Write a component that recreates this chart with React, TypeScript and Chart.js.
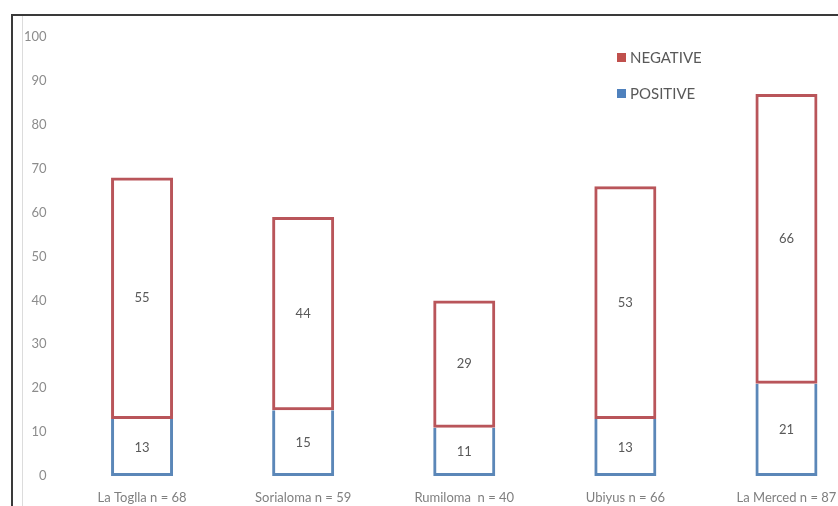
import React, { useEffect, useRef } from "react";
import { Chart, registerables } from "chart.js";

Chart.register(...registerables);

const categories = ["La Toglla n = 68", "Sorialoma n = 59", "Rumiloma  n = 40", "Ubiyus n = 66", "La Merced n = 87"];
const positiveValues = [13, 15, 11, 13, 21];
const negativeValues = [55, 44, 29, 53, 66];
const yTicks = [0, 10, 20, 30, 40, 50, 60, 70, 80, 90, 100];

const RED = "#b9555a";
const BLUE = "#5b87b8";
const FONT = "Lato, 'Open Sans', sans-serif";

const valueLabels = {
  id: "valueLabels",
  afterDatasetsDraw(chart: any) {
    const ctx = chart.ctx;
    ctx.save();
    ctx.font = `13px ${FONT}`;
    ctx.fillStyle = "#595959";
    ctx.textAlign = "center";
    ctx.textBaseline = "middle";
    chart.data.datasets.forEach((ds: any, i: number) => {
      const meta = chart.getDatasetMeta(i);
      meta.data.forEach((el: any, j: number) => {
        const y = (el.y + el.base) / 2;
        ctx.fillText(String(ds.data[j]), el.x, y);
      });
    });
    ctx.restore();
  },
};

const sideLegend = {
  id: "sideLegend",
  afterDraw(chart: any) {
    const ctx = chart.ctx;
    ctx.save();
    const items = [
      { label: "NEGATIVE", color: "#c0504d", y: 57 },
      { label: "POSITIVE", color: "#4f81bd", y: 93 },
    ];
    ctx.font = `15px ${FONT}`;
    ctx.textBaseline = "middle";
    ctx.textAlign = "left";
    items.forEach((it) => {
      ctx.fillStyle = it.color;
      ctx.fillRect(617, it.y - 4, 9, 9);
      ctx.fillStyle = "#595959";
      ctx.fillText(it.label, 630, it.y + 1);
    });
    ctx.restore();
  },
};

export default function App() {
  const ref = useRef<HTMLCanvasElement | null>(null);
  useEffect(() => {
    if (!ref.current) return;
    const chart = new Chart(ref.current, {
      type: "bar",
      data: {
        labels: categories,
        datasets: [
          {
            label: "POSITIVE",
            data: positiveValues,
            backgroundColor: "rgba(255,255,255,0)",
            borderColor: BLUE,
            borderWidth: { top: 0, left: 3, right: 3, bottom: 3 },
            borderSkipped: false,
            barPercentage: 0.385,
            categoryPercentage: 1,
          },
          {
            label: "NEGATIVE",
            data: negativeValues,
            backgroundColor: "rgba(255,255,255,0)",
            borderColor: RED,
            borderWidth: 3,
            borderSkipped: false,
            barPercentage: 0.385,
            categoryPercentage: 1,
          },
        ],
      },
      options: {
        responsive: false,
        animation: false,
        devicePixelRatio: 1,
        layout: { padding: { left: 11.5, top: 37, right: 33, bottom: 0 } },
        plugins: { legend: { display: false }, tooltip: { enabled: false } },
        scales: {
          x: {
            stacked: true,
            grid: { display: false },
            border: { display: false },
            ticks: { color: "#7f7f7f", font: { size: 13, family: FONT }, padding: 6 },
            afterFit: (s: any) => { s.height = 30; },
          },
          y: {
            stacked: true,
            min: 0,
            max: 100,
            afterBuildTicks: (s: any) => { s.ticks = yTicks.map((v) => ({ value: v })); },
            grid: { display: false },
            border: { display: false },
            ticks: { color: "#8c8c8c", font: { size: 13, family: FONT }, padding: 7 },
            afterFit: (s: any) => { s.width = 50; },
          },
        },
      },
      plugins: [valueLabels, sideLegend],
    });
    return () => chart.destroy();
  }, []);

  return (
    <div style={{ position: "fixed", left: 0, top: 0, width: 838, height: 506, overflow: "hidden", background: "#fff" }}>
      <canvas ref={ref} width={900} height={506} style={{ position: "absolute", left: 0, top: 0, width: 900, height: 506 }} />
      <div style={{ position: "absolute", left: 11, top: 14, width: 900, height: 600, borderLeft: "2px solid #3a3a3a", borderTop: "2px solid #3a3a3a", pointerEvents: "none" }} />
      <div style={{ position: "absolute", left: 22, top: 16, width: 1, height: 500, background: "#dcdcdc" }} />
    </div>
  );
}
